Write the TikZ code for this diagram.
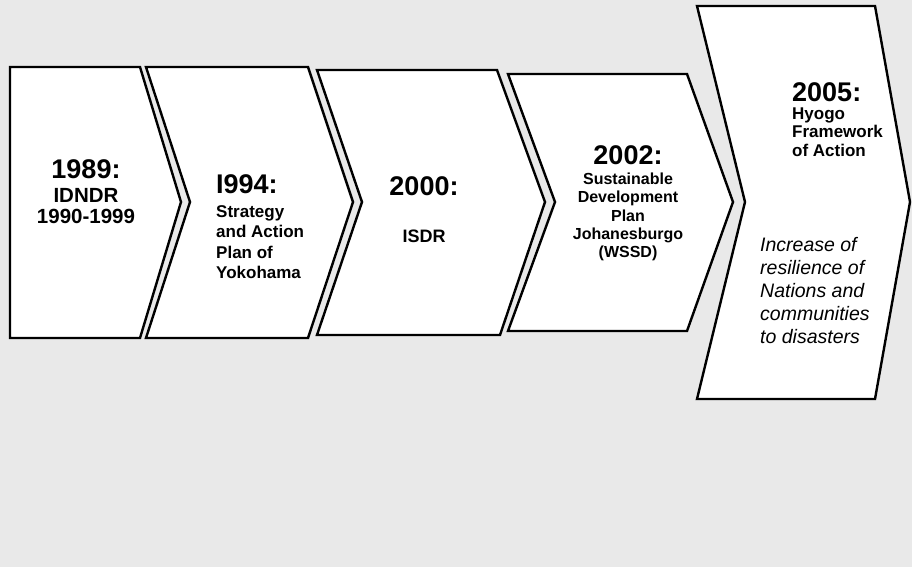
\documentclass[tikz,border=0pt]{standalone}
\usepackage{fontspec}
\setmainfont{Liberation Sans}
\definecolor{panelgray}{RGB}{233,233,233}

\tikzset{
  chevron/.style={draw=black, line width=2.4pt, fill=white, line join=miter},
  yearlbl/.style={inner sep=0pt, font=\bfseries\fontsize{27}{30}\selectfont},
}

\begin{document}
\begin{tikzpicture}[x=1pt, y=-1pt]

\fill[panelgray] (0,0) rectangle (912,567);
\useasboundingbox (0,0) rectangle (912,567);

% the five steps
\draw[chevron] (10,67) -- (140,67) -- (181,202) -- (140,338) -- (10,338) -- cycle;
\draw[chevron] (146,67) -- (308,67) -- (353,202) -- (308,338) -- (146,338) -- (190,202) -- cycle;
\draw[chevron] (317,70) -- (497,70) -- (545,202) -- (500,335) -- (317,335) -- (362,202) -- cycle;
\draw[chevron] (508,74) -- (687,74) -- (733,202) -- (687,331) -- (508,331) -- (555,202) -- cycle;
\draw[chevron] (697,6) -- (875,6) -- (910,202) -- (875,399) -- (697,399) -- (745,202) -- cycle;

% 1989
\node[yearlbl] (y1989) at (86,169) {1989:};
\node[inner sep=0pt, align=center, font=\bfseries\fontsize{20.5}{21.5}\selectfont]
  (t1989) at (86,206) {IDNDR\\1990-1999};

% 1994
\node[yearlbl, anchor=west] (y1994) at (216,184) {I994:};
\node[inner sep=0pt, anchor=west, align=left, font=\bfseries\fontsize{17}{20.5}\selectfont]
  (t1994) at (216,242) {Strategy\\and Action\\Plan of\\Yokohama};

% 2000
\node[yearlbl] (y2000) at (424,186) {2000:};
\node[inner sep=0pt, font=\bfseries\fontsize{18}{20}\selectfont] (t2000) at (424,236) {ISDR};

% 2002
\node[yearlbl] (y2002) at (628,155) {2002:};
\node[inner sep=0pt, align=center, font=\bfseries\fontsize{16}{18.3}\selectfont]
  (t2002) at (628,217) {Sustainable\\Development\\Plan\\Johanesburgo\\(WSSD)};

% 2005
\node[yearlbl, anchor=west] (y2005) at (792,92) {2005:};
\node[inner sep=0pt, anchor=west, align=left, font=\bfseries\fontsize{17}{18.7}\selectfont]
  (t2005) at (792,132) {Hyogo\\Framework\\of Action};
\node[inner sep=0pt, anchor=west, align=left, font=\itshape\fontsize{19.5}{23}\selectfont]
  (g2005) at (760,291) {Increase of\\resilience of\\Nations and\\communities\\to disasters};

\end{tikzpicture}
\end{document}
